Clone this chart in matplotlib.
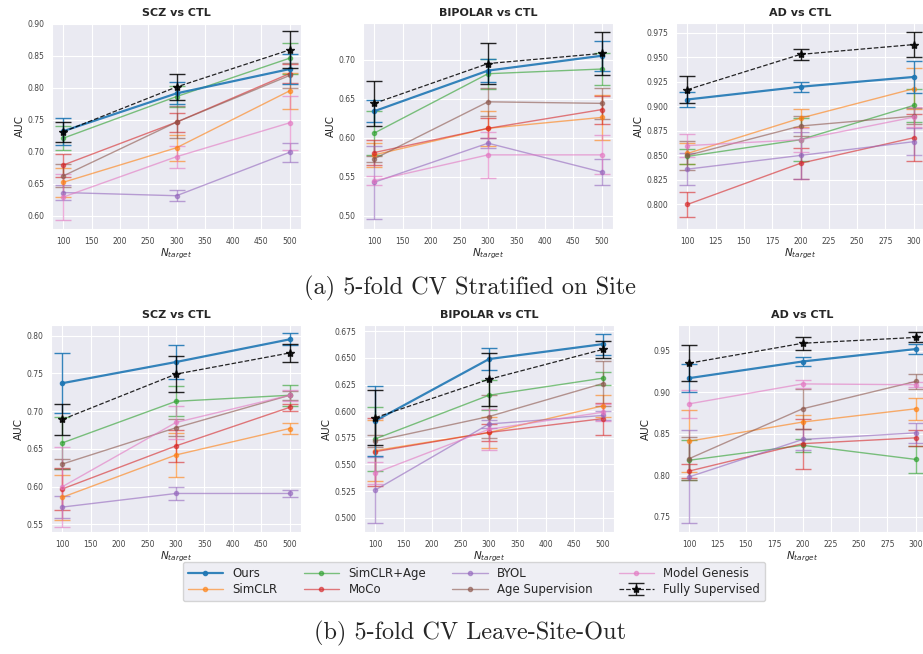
import matplotlib
matplotlib.use("Agg")
import matplotlib.pyplot as plt
import seaborn as sns

sns.set_style("darkgrid")
plt.rcParams['font.family'] = ['DejaVu Sans']

methods = ["Ours", "SimCLR", "SimCLR+Age", "MoCo", "BYOL",
           "Age Supervision", "Model Genesis", "Fully Supervised"]
colors = ["C0", "C1", "C2", "C3", "C4", "C5", "C6", "black"]

n_target_500 = [100, 300, 500]
n_target_300 = [100, 200, 300]

# (a) stratified on site -- one row per method, same order as `methods`
scz_strat_auc = [[0.732, 0.791, 0.829], [0.652, 0.706, 0.795], [0.721, 0.786, 0.846],
                 [0.679, 0.746, 0.822], [0.636, 0.631, 0.699], [0.662, 0.746, 0.819],
                 [0.629, 0.692, 0.745], [0.731, 0.801, 0.859]]
scz_strat_err = [[0.021, 0.017, 0.024], [0.023, 0.020, 0.028], [0.019, 0.016, 0.024],
                 [0.018, 0.015, 0.015], [0.012, 0.009, 0.015], [0.018, 0.025, 0.020],
                 [0.036, 0.017, 0.042], [0.016, 0.021, 0.029]]

bip_strat_auc = [[0.634, 0.686, 0.705], [0.578, 0.612, 0.626], [0.606, 0.682, 0.688],
                 [0.581, 0.612, 0.636], [0.543, 0.593, 0.556], [0.573, 0.646, 0.644],
                 [0.545, 0.578, 0.578], [0.644, 0.695, 0.708]]
bip_strat_err = [[0.014, 0.015, 0.019], [0.015, 0.022, 0.029], [0.028, 0.019, 0.021],
                 [0.016, 0.013, 0.018], [0.047, 0.006, 0.017], [0.004, 0.018, 0.020],
                 [0.006, 0.029, 0.025], [0.029, 0.026, 0.028]]

ad_strat_auc = [[0.907, 0.920, 0.930], [0.852, 0.888, 0.918], [0.849, 0.866, 0.901],
                [0.800, 0.842, 0.868], [0.836, 0.850, 0.864], [0.850, 0.880, 0.890],
                [0.860, 0.866, 0.889], [0.917, 0.953, 0.963]]
ad_strat_err = [[0.008, 0.005, 0.016], [0.011, 0.009, 0.021], [0.008, 0.022, 0.017],
                [0.013, 0.016, 0.024], [0.016, 0.024, 0.014], [0.015, 0.010, 0.008],
                [0.012, 0.012, 0.010], [0.014, 0.006, 0.013]]

# (b) leave-site-out
scz_lso_auc = [[0.737, 0.765, 0.795], [0.586, 0.642, 0.677], [0.658, 0.713, 0.721],
               [0.597, 0.654, 0.705], [0.573, 0.591, 0.591], [0.630, 0.678, 0.721],
               [0.600, 0.685, 0.721], [0.689, 0.749, 0.777]]
scz_lso_err = [[0.040, 0.022, 0.008], [0.030, 0.029, 0.007], [0.034, 0.020, 0.014],
               [0.028, 0.021, 0.005], [0.015, 0.009, 0.005], [0.006, 0.011, 0.006],
               [0.053, 0.022, 0.007], [0.021, 0.024, 0.012]]

bip_lso_auc = [[0.591, 0.649, 0.663], [0.563, 0.580, 0.605], [0.574, 0.615, 0.631],
               [0.562, 0.580, 0.593], [0.526, 0.588, 0.596], [0.572, 0.595, 0.626],
               [0.542, 0.583, 0.599], [0.594, 0.630, 0.658]]
bip_lso_err = [[0.033, 0.010, 0.010], [0.029, 0.015, 0.010], [0.030, 0.014, 0.006],
               [0.032, 0.008, 0.015], [0.031, 0.004, 0.004], [0.006, 0.020, 0.021],
               [0.010, 0.019, 0.008], [0.026, 0.025, 0.008]]

ad_lso_auc = [[0.917, 0.937, 0.952], [0.841, 0.864, 0.880], [0.818, 0.836, 0.819],
              [0.805, 0.838, 0.845], [0.798, 0.843, 0.851], [0.820, 0.880, 0.913],
              [0.886, 0.910, 0.909], [0.935, 0.959, 0.966]]
ad_lso_err = [[0.017, 0.006, 0.006], [0.037, 0.008, 0.013], [0.024, 0.008, 0.016],
              [0.008, 0.030, 0.010], [0.056, 0.013, 0.012], [0.026, 0.024, 0.009],
              [0.017, 0.005, 0.003], [0.022, 0.008, 0.006]]

W, H = 923, 654
fig = plt.figure(figsize=(W / 100, H / 100), dpi=100)


def px_axes(x0, x1, y0, y1):
    return fig.add_axes([x0 / W, 1 - y1 / H, (x1 - x0) / W, (y1 - y0) / H])


def draw_panel(ax, title, xs, auc, err, ylim, yticks, xticks, yfmt):
    handles = []
    for i, name in enumerate(methods):
        if name == "Ours":
            h = ax.errorbar(xs, auc[i], yerr=err[i], color=colors[i], lw=1.6,
                            marker='o', ms=3, capsize=6, elinewidth=1, alpha=0.9,
                            zorder=5, label=name)
            handles.append(h[0])
        elif name == "Fully Supervised":
            h = ax.errorbar(xs, auc[i], yerr=err[i], color=colors[i], lw=0.9, ls='--',
                            marker='*', ms=6, capsize=6, elinewidth=1, alpha=0.85,
                            zorder=6, label=name)
            handles.append(h)
        else:
            h = ax.errorbar(xs, auc[i], yerr=err[i], color=colors[i], lw=1.0,
                            marker='o', ms=3, capsize=6, elinewidth=1, alpha=0.6,
                            zorder=3, label=name)
            handles.append(h[0])
    ax.set_title(title, fontsize=8, fontweight='bold', pad=5)
    ax.set_ylim(*ylim)
    ax.set_yticks(yticks)
    ax.set_yticklabels([yfmt.format(t) for t in yticks])
    ax.set_xticks(xticks)
    ax.tick_params(labelsize=5.5, pad=2, colors='#444444')
    ax.set_xlabel(r"$N_{target}$", fontsize=7.5, labelpad=1)
    ax.set_ylabel("AUC", fontsize=7.5, labelpad=2)
    return handles


x500 = [100, 150, 200, 250, 300, 350, 400, 450, 500]
x300 = [100, 125, 150, 175, 200, 225, 250, 275, 300]

ax = px_axes(52, 301, 23, 229)
draw_panel(ax, "SCZ vs CTL", n_target_500, scz_strat_auc, scz_strat_err,
           (0.579, 0.901), [0.60, 0.65, 0.70, 0.75, 0.80, 0.85, 0.90], x500, "{:.2f}")
ax = px_axes(363, 613, 23, 229)
draw_panel(ax, "BIPOLAR vs CTL", n_target_500, bip_strat_auc, bip_strat_err,
           (0.483, 0.747), [0.50, 0.55, 0.60, 0.65, 0.70], x500, "{:.2f}")
ax = px_axes(676, 925, 23, 229)
draw_panel(ax, "AD vs CTL", n_target_300, ad_strat_auc, ad_strat_err,
           (0.775, 0.985), [0.800, 0.825, 0.850, 0.875, 0.900, 0.925, 0.950, 0.975],
           x300, "{:.3f}")

ax = px_axes(51, 301, 325, 532)
draw_panel(ax, "SCZ vs CTL", n_target_500, scz_lso_auc, scz_lso_err,
           (0.540, 0.814), [0.55, 0.60, 0.65, 0.70, 0.75, 0.80], x500, "{:.2f}")
ax = px_axes(364, 614, 325, 532)
draw_panel(ax, "BIPOLAR vs CTL", n_target_500, bip_lso_auc, bip_lso_err,
           (0.4865, 0.681), [0.500, 0.525, 0.550, 0.575, 0.600, 0.625, 0.650, 0.675],
           x500, "{:.3f}")
ax = px_axes(678, 927, 325, 532)
handles = draw_panel(ax, "AD vs CTL", n_target_300, ad_lso_auc, ad_lso_err,
                     (0.7315, 0.981), [0.75, 0.80, 0.85, 0.90, 0.95], x300, "{:.2f}")

leg = fig.legend(handles, methods, loc='center', bbox_to_anchor=(474 / W, 1 - 581.5 / H),
                 ncol=4, fontsize=8.5, frameon=True, facecolor='#EAEAF2',
                 edgecolor='#cccccc', columnspacing=2.2, handlelength=3,
                 borderpad=0.4, labelspacing=0.3)

fig.text(470 / W, 1 - 288 / H, "(a) 5-fold CV Stratified on Site", ha='center',
         va='center', fontsize=17.5, family='cmr10')
fig.text(470 / W, 1 - 633 / H, "(b) 5-fold CV Leave-Site-Out", ha='center',
         va='center', fontsize=17.5, family='cmr10')

fig.savefig("out.png", dpi=100, facecolor='white')
